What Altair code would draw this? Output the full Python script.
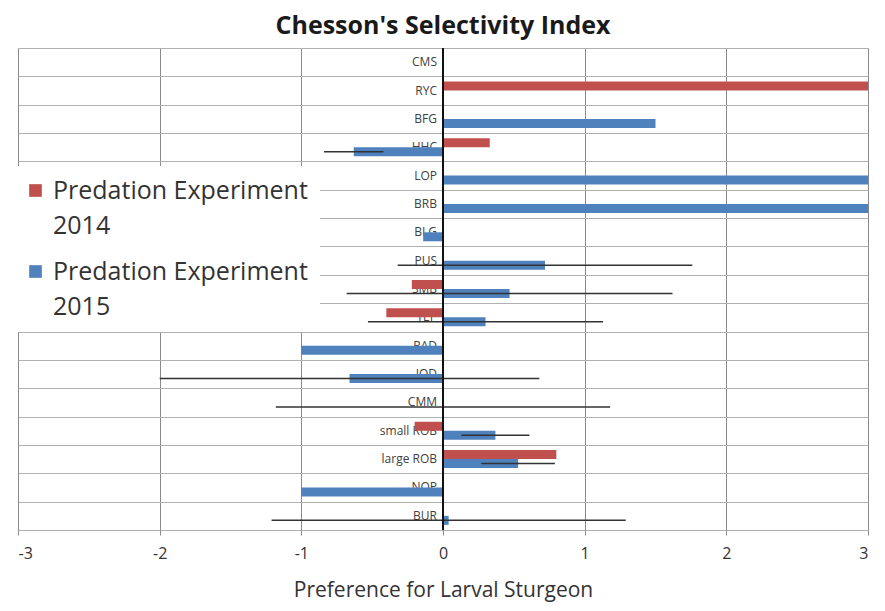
import altair as alt
import pandas as pd

categories = ["CMS", "RYC", "BFG", "HHC", "LOP", "BRB", "BLG", "PUS", "SMB", "YEP",
              "RAD", "JOD", "CMM", "small ROB", "large ROB", "NOP", "BUR"]
val_2014 = [None, 3.0, None, 0.33, None, None, None, None, -0.22, -0.40,
            None, None, None, -0.20, 0.80, None, None]
val_2015 = [None, None, 1.50, -0.63, 3.0, 3.0, -0.14, 0.72, 0.47, 0.30,
            -1.0, -0.66, 0.0, 0.37, 0.53, -1.0, 0.04]
err_2015 = [None, None, None, 0.21, None, None, None, 1.04, 1.15, 0.83,
            None, 1.34, 1.18, 0.24, 0.26, None, 1.25]
series_names = ["2014", "2015"]
series_colors = ["#C0504D", "#4F81BD"]
x_ticks = [-3, -2, -1, 0, 1, 2, 3]

rows = []
for i, c in enumerate(categories):
    for s, vals in (("2014", val_2014), ("2015", val_2015)):
        v = vals[i]
        if v is not None:
            rows.append({"cat": c, "series": s, "value": v, "base": 0})
bars_df = pd.DataFrame(rows)

err_rows = []
for i, c in enumerate(categories):
    e, v = err_2015[i], val_2015[i]
    if e is not None:
        err_rows.append({"cat": c, "series": "2015", "lo": v - e, "hi": v + e})
err_df = pd.DataFrame(err_rows)

labels_df = pd.DataFrame({"cat": categories, "zero": [0] * len(categories)})
zero_df = pd.DataFrame({"zero": [0]})

FONT = "Open Sans"

x_scale = alt.Scale(domain=[-3, 3], nice=False, zero=False)
y_scale = alt.Scale(domain=categories, paddingInner=0, paddingOuter=0)
yoff_scale = alt.Scale(domain=series_names, paddingInner=0, paddingOuter=0.575)

x_axis = alt.Axis(values=x_ticks, title="Preference for Larval Sturgeon", grid=True,
                  gridColor="#8a8a8a", gridWidth=1, domain=False, tickColor="#8a8a8a",
                  tickSize=5, labelFontSize=16, labelFont=FONT, labelColor="#333333",
                  labelPadding=10, labelExpr="'' + datum.value",
                  titleFontSize=21, titleFont=FONT, titleColor="#333333",
                  titleFontWeight="normal", titlePadding=18)
y_axis = alt.Axis(labels=False, ticks=False, domain=False, title=None, grid=True,
                  gridColor="#b0b0b0", gridWidth=1, tickBand="extent")

labels = alt.Chart(labels_df).mark_text(align="right", dx=-6, fontSize=12, font=FONT,
                                         color="#404040").encode(
    x=alt.X("zero:Q", scale=x_scale, axis=x_axis),
    y=alt.Y("cat:N", scale=y_scale, axis=y_axis, sort=categories),
    text="cat:N",
)

bars = alt.Chart(bars_df).mark_bar(clip=True).encode(
    x=alt.X("value:Q", scale=x_scale, axis=x_axis),
    x2="base:Q",
    y=alt.Y("cat:N", scale=y_scale, axis=y_axis, sort=categories),
    yOffset=alt.YOffset("series:N", scale=yoff_scale),
    color=alt.Color("series:N",
                    scale=alt.Scale(domain=series_names, range=series_colors),
                    legend=alt.Legend(title=None, orient="none", legendX=-7, legendY=118,
                                      fillColor="white", padding=12, symbolType="square",
                                      symbolSize=160, symbolStrokeWidth=0,
                                      labelFontSize=25, labelFont=FONT,
                                      labelColor="#333333",
                                      labelExpr="['Predation Experiment', datum.label]",
                                      labelLimit=400, rowPadding=20, labelOffset=5)),
)

errs = alt.Chart(err_df).mark_rule(color="#333333", strokeWidth=1.5).encode(
    x=alt.X("lo:Q", scale=x_scale, axis=x_axis),
    x2="hi:Q",
    y=alt.Y("cat:N", scale=y_scale, axis=y_axis, sort=categories),
    yOffset=alt.YOffset("series:N", scale=yoff_scale),
)

zero_line = alt.Chart(zero_df).mark_rule(color="#111111", strokeWidth=2).encode(
    x=alt.X("zero:Q", scale=x_scale, axis=x_axis),
)

chart = alt.layer(labels, bars, errs, zero_line).properties(
    width=850, height=482,
    title=alt.TitleParams("Chesson's Selectivity Index", fontSize=25, font=FONT,
                          fontWeight="bold", color="#1a1a1a", offset=8, anchor="middle"),
    autosize=alt.AutoSizeParams(type="none"),
    padding={"left": 10, "top": 40, "right": 9, "bottom": 73},
).configure_view(stroke=None).configure(style={"guide-label": {"lineHeight": 35}})

chart.save("out.html", embed_options={"renderer": "svg", "actions": False})
